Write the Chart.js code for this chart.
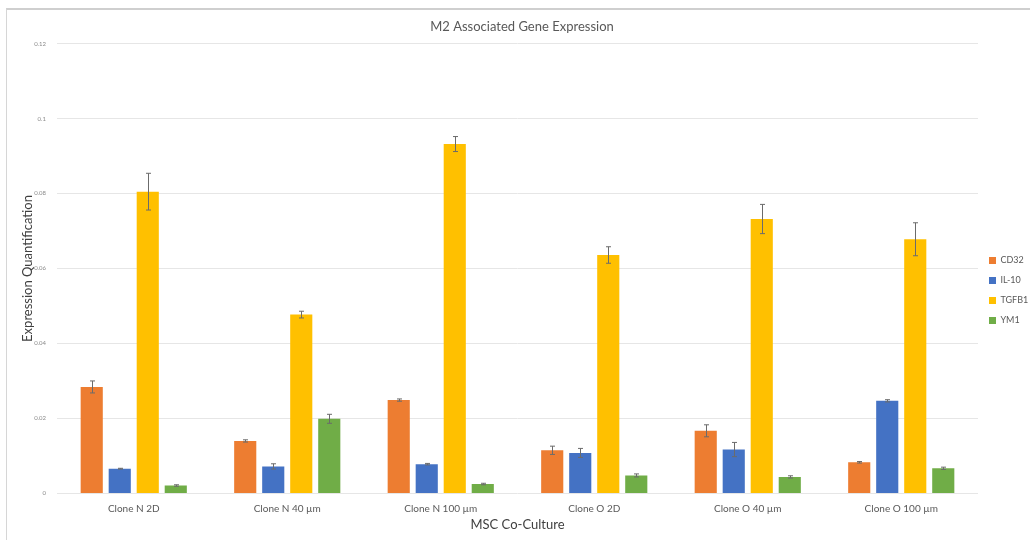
<!DOCTYPE html>
<html>
<head>
<meta charset="utf-8">
<script src="https://cdn.jsdelivr.net/npm/chart.js@4/dist/chart.umd.min.js"></script>
<style>
  html, body { margin: 0; padding: 0; background: #fff; }
  #wrap { position: relative; width: 1030px; height: 540px; overflow: hidden; }
  #frame { position: absolute; left: 6px; top: 8px; width: 1100px; height: 600px;
           border-top: 2px solid #cfcfcf; border-left: 1px solid #d6d6d6; pointer-events: none; }
</style>
</head>
<body>
<div id="wrap">
  <canvas id="chart" width="1030" height="540"></canvas>
  <div id="frame"></div>
</div>
<script>
const categories = ['Clone N 2D', 'Clone N 40\u202Fµm', 'Clone N 100\u202Fµm', 'Clone O 2D', 'Clone O 40\u202Fµm', 'Clone O 100\u202Fµm'];
const seriesNames = ['CD32', 'IL-10', 'TGFB1', 'YM1'];
const cd32 = [0.0284, 0.0140, 0.0249, 0.0115, 0.0167, 0.0083];
const il10 = [0.0066, 0.0072, 0.0078, 0.0108, 0.0117, 0.0247];
const tgfb1 = [0.0805, 0.0477, 0.0932, 0.0636, 0.0732, 0.0678];
const ym1 = [0.0021, 0.0199, 0.0025, 0.0048, 0.0044, 0.0067];
const cd32Err = [0.0016, 0.0003, 0.0003, 0.0011, 0.0016, 0.0002];
const il10Err = [0.0001, 0.0007, 0.0002, 0.0012, 0.0019, 0.0003];
const tgfb1Err = [0.0049, 0.0009, 0.0020, 0.0022, 0.0039, 0.0044];
const ym1Err = [0.0002, 0.0012, 0.0002, 0.0004, 0.0003, 0.0003];
const yTicks = ['0', '0.02', '0.04', '0.06', '0.08', '0.1', '0.12'];

const colors = ['#ED7D31', '#4472C4', '#FFC000', '#70AD47'];
const values = [cd32, il10, tgfb1, ym1];
const errors = [cd32Err, il10Err, tgfb1Err, ym1Err];

// draws the +/- error whiskers on top of each bar
const errorBars = {
    id: 'errorBars',
    afterDatasetsDraw(chart) {
        const ctx = chart.ctx;
        const y = chart.scales.y;
        ctx.save();
        ctx.strokeStyle = '#6b6b6b';
        ctx.lineWidth = 1;
        chart.data.datasets.forEach((ds, i) => {
            const meta = chart.getDatasetMeta(i);
            meta.data.forEach((bar, j) => {
                const v = ds.data[j], e = ds.errors[j];
                const x = Math.round(bar.x) + 0.5;
                const top = y.getPixelForValue(v + e);
                const bot = y.getPixelForValue(v - e);
                ctx.beginPath();
                ctx.moveTo(x, top); ctx.lineTo(x, bot);
                ctx.moveTo(x - 2.5, top); ctx.lineTo(x + 2.5, top);
                ctx.moveTo(x - 2.5, bot); ctx.lineTo(x + 2.5, bot);
                ctx.stroke();
            });
        });
        ctx.restore();
    }
};

const font = 'Lato, "Open Sans", sans-serif';

new Chart(document.getElementById('chart'), {
    type: 'bar',
    data: {
        labels: categories,
        datasets: seriesNames.map((name, i) => ({
            label: name,
            data: values[i],
            errors: errors[i],
            backgroundColor: colors[i],
            borderWidth: 0,
            categoryPercentage: 0.73,
            barPercentage: 0.79
        }))
    },
    options: {
        responsive: false,
        animation: false,
        layout: { padding: { left: 14, right: 0, top: 0, bottom: 7 } },
        plugins: {
            title: {
                display: true,
                text: 'M2 Associated Gene Expression',
                color: '#595959',
                font: { family: font, size: 13, weight: 'normal' },
                padding: { top: 19, bottom: 9 }
            },
            legend: {
                position: 'right',
                maxWidth: 52,
                title: { display: true, text: ' ', font: { size: 10 }, padding: { top: 0, bottom: 36 } },
                labels: {
                    color: '#595959',
                    font: { family: font, size: 9 },
                    boxWidth: 7,
                    boxHeight: 7,
                    padding: 11
                }
            },
            tooltip: { enabled: false }
        },
        scales: {
            x: {
                grid: { display: false },
                border: { display: false },
                ticks: { color: '#595959', font: { family: font, size: 10 }, padding: 1 },
                title: {
                    display: true,
                    text: 'MSC Co-Culture',
                    color: '#404040',
                    font: { family: font, size: 13 },
                    padding: { top: 2, bottom: 0 }
                }
            },
            y: {
                min: 0,
                max: 0.12,
                afterFit: (scale) => { scale.width = 43; },
                ticks: {
                    stepSize: 0.02,
                    color: '#8a8a8a',
                    font: { family: font, size: 6 },
                    padding: 11,
                    callback: (v, i) => yTicks[i]
                },
                grid: { color: '#e6e6e6', drawTicks: false },
                border: { display: false },
                title: {
                    display: true,
                    text: 'Expression Quantification',
                    color: '#404040',
                    font: { family: font, size: 13 },
                    padding: { top: 6, bottom: 0 }
                }
            }
        }
    },
    plugins: [errorBars]
});
</script>
</body>
</html>
